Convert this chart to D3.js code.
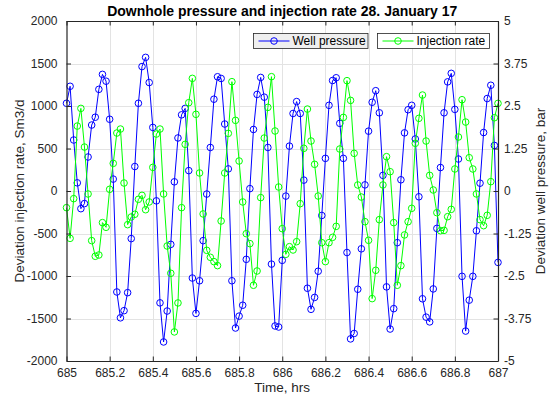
<!DOCTYPE html>
<html>
<head>
<meta charset="utf-8">
<script src="https://cdn.jsdelivr.net/npm/d3@7"></script>
<style>
  html, body { margin: 0; padding: 0; background: #fff; }
  svg { display: block; font-family: "Liberation Sans", Arial, Helvetica, sans-serif; }
</style>
</head>
<body>
<svg id="chart" width="549" height="394"></svg>
<script>
// Sampling: one reading per minute from 685 h to 687 h
const startHour = 685;
const samplesPerHour = 60;

// Downhole well pressure deviation, bar (right axis)
const wellPressure = [
  2.58, 3.08, 1.50, 0.24, -0.52, -0.37, 1.00, 1.94, 2.17, 2.99,
  3.43, 3.23, 2.11, 0.35, -2.97, -3.73, -3.52, -2.99, -1.40, 0.72,
  2.58, 3.66, 3.93, 3.19, 1.87, -0.29, -3.29, -4.44, -3.53, -1.57,
  0.27, 1.56, 2.24, 2.43, 0.60, -2.56, -3.60, -2.64, -1.46, -0.09,
  1.28, 2.70, 3.36, 3.31, 1.97, 0.65, -2.64, -4.03, -3.68, -3.36,
  -2.01, 0.07, 1.81, 2.84, 3.34, 2.76, 1.28, -2.15, -3.97, -4.00,
  -2.04, -0.15, 1.32, 2.28, 2.63, 2.28, 0.32, -2.86, -3.48, -3.13,
  -2.36, -0.72, 0.96, 2.52, 3.25, 3.33, 1.99, 0.96, -1.81, -4.35,
  -4.19, -2.89, -1.70, 0.18, 1.76, 2.61, 2.95, 2.30, 0.46, -2.82,
  -4.06, -3.46, -1.52, 0.33, 1.71, 2.39, 2.52, 1.53, -0.17, -3.17,
  -3.71, -3.85, -2.88, -1.10, 0.69, 2.30, 3.21, 3.46, 2.40, 0.94,
  -2.51, -4.12, -3.21, -2.51, -1.17, 0.23, 1.72, 2.72, 3.11, 1.34,
  -2.10
];

// Injection rate deviation, Sm3/d (left axis)
const injectionRate = [
  -196, -557, -90, 764, 972, 517, -35, -584, -768, -753,
  -372, -427, 20, 325, 682, 729, 94, -396, -306, -274,
  -98, -51, -220, -129, 278, 670, 729, -35, -647, -968,
  -1658, -1317, -196, 549, 1039, 1325, 902, 212, -270, -698,
  -780, -831, -878, -353, 212, 678, 1286, 831, 353, -129,
  -502, -619, -1109, -941, -78, 623, 984, 1345, 706, 47,
  -443, -745, -655, -694, -596, -149, 502, 964, 588, 314,
  -59, -608, -831, -608, -545, -416, 494, 866, 1298, 1066,
  443, 71, -71, -361, -580, -1266, -933, -337, 71, 404,
  227, -372, -1109, -878, -517, -361, -204, 561, 855, 1129,
  588, 184, 12, -255, -467, -463, -302, -216, 259, 635,
  1074, 811, 392, 259, -35, -337, -408, -286, 110, 862,
  1031
];

const xTicks = [685, 685.2, 685.4, 685.6, 685.8, 686, 686.2, 686.4, 686.6, 686.8, 687];
const xTickLabels = ["685", "685.2", "685.4", "685.6", "685.8", "686", "686.2", "686.4", "686.6", "686.8", "687"];
const leftTicks = [-2000, -1500, -1000, -500, 0, 500, 1000, 1500, 2000];
const leftTickLabels = ["-2000", "-1500", "-1000", "-500", "0", "500", "1000", "1500", "2000"];
const rightTicks = [-5, -3.75, -2.5, -1.25, 0, 1.25, 2.5, 3.75, 5];
const rightTickLabels = ["-5", "-3.75", "-2.5", "-1.25", "0", "1.25", "2.5", "3.75", "5"];

const title = "Downhole pressure and injection rate 28. January 17";
const xLabel = "Time, hrs";
const leftLabel = "Deviation injection rate, Sm3/d";
const rightLabel = "Deviation well pressure, bar";
const seriesNames = ["Well pressure", "Injection rate"];

const BLUE = "#0000ff", GREEN = "#00ff00", INK = "#262626", GRID = "#e3e3e3";

const plot = { left: 66.5, right: 498, top: 21, bottom: 361 };

const svg = d3.select("#chart");

const x = d3.scaleLinear().domain([685, 687]).range([plot.left, plot.right]);
const yL = d3.scaleLinear().domain([-2000, 2000]).range([plot.bottom, plot.top]);
const yR = d3.scaleLinear().domain([-5, 5]).range([plot.bottom, plot.top]);

const hours = wellPressure.map((_, i) => startHour + i / samplesPerHour);

// Grid
const grid = svg.append("g").attr("stroke", GRID).attr("stroke-width", 1);
grid.selectAll("line.gx").data(xTicks.slice(1, -1)).join("line")
  .attr("x1", d => Math.round(x(d)) + 0.5).attr("x2", d => Math.round(x(d)) + 0.5)
  .attr("y1", plot.top).attr("y2", plot.bottom);
grid.selectAll("line.gy").data(leftTicks.slice(1, -1)).join("line")
  .attr("y1", d => Math.round(yL(d)) + 0.5).attr("y2", d => Math.round(yL(d)) + 0.5)
  .attr("x1", plot.left).attr("x2", plot.right);

// Series
function drawSeries(values, yScale, color) {
  const g = svg.append("g");
  const line = d3.line().x((d, i) => x(hours[i])).y(d => yScale(d));
  g.append("path").datum(values)
    .attr("d", line).attr("fill", "none").attr("stroke", color).attr("stroke-width", 1);
  g.selectAll("circle").data(values).join("circle")
    .attr("cx", (d, i) => x(hours[i])).attr("cy", d => yScale(d)).attr("r", 3.3)
    .attr("fill", "none").attr("stroke", color).attr("stroke-width", 1);
}
drawSeries(wellPressure, yR, BLUE);
drawSeries(injectionRate, yL, GREEN);

// Axes (ticks pointing inward, as on a boxed plot)
const tickLen = 4.5;
function styleAxis(g) {
  g.selectAll(".domain").attr("stroke", INK);
  g.selectAll(".tick line").attr("stroke", INK);
  g.selectAll(".tick text").attr("fill", INK).attr("font-size", 12);
}
svg.append("g").attr("transform", `translate(0,${plot.bottom})`)
  .call(d3.axisBottom(x).tickValues(xTicks).tickFormat((d, i) => xTickLabels[i])
    .tickSizeInner(-tickLen).tickSizeOuter(0).tickPadding(7))
  .call(styleAxis);
svg.append("g").attr("transform", `translate(0,${plot.top})`)
  .call(d3.axisTop(x).tickValues(xTicks).tickFormat("")
    .tickSizeInner(-tickLen).tickSizeOuter(0))
  .call(styleAxis);
svg.append("g").attr("transform", `translate(${plot.left},0)`)
  .call(d3.axisLeft(yL).tickValues(leftTicks).tickFormat((d, i) => leftTickLabels[i])
    .tickSizeInner(-tickLen).tickSizeOuter(0).tickPadding(9))
  .call(styleAxis);
svg.append("g").attr("transform", `translate(${plot.right},0)`)
  .call(d3.axisRight(yR).tickValues(rightTicks).tickFormat((d, i) => rightTickLabels[i])
    .tickSizeInner(-tickLen).tickSizeOuter(0).tickPadding(6))
  .call(styleAxis);
svg.selectAll(".domain").attr("stroke-width", 1.2);

// Titles and labels
svg.append("text").attr("x", (plot.left + plot.right) / 2).attr("y", 15.5)
  .attr("text-anchor", "middle").attr("font-weight", "bold").attr("font-size", 14)
  .attr("fill", "#000").text(title);
svg.append("text").attr("x", (plot.left + plot.right) / 2).attr("y", 391.5)
  .attr("text-anchor", "middle").attr("font-size", 13.5).attr("fill", INK).text(xLabel);
svg.append("text").attr("transform", `translate(24,${(plot.top + plot.bottom) / 2}) rotate(-90)`)
  .attr("text-anchor", "middle").attr("font-size", 13.5).attr("fill", INK).text(leftLabel);
svg.append("text").attr("transform", `translate(545,${(plot.top + plot.bottom) / 2}) rotate(-90)`)
  .attr("text-anchor", "middle").attr("font-size", 13.5).attr("fill", INK).text(rightLabel);

// Legend boxes, one per series
const legendItems = [
  { name: seriesNames[0], color: BLUE, fill: "#efefef", x0: 253.5, x1: 368 },
  { name: seriesNames[1], color: GREEN, fill: "#ffffff", x0: 377.5, x1: 489.5 }
];
legendItems.forEach(item => {
  const g = svg.append("g");
  g.append("rect").attr("x", item.x0).attr("y", 33.5).attr("width", item.x1 - item.x0).attr("height", 15)
    .attr("fill", item.fill).attr("stroke", INK).attr("stroke-width", 0.8);
  const ly = 41;
  g.append("line").attr("x1", item.x0 + 5).attr("x2", item.x0 + 36).attr("y1", ly).attr("y2", ly)
    .attr("stroke", item.color).attr("stroke-width", 1);
  g.append("circle").attr("cx", item.x0 + 20.5).attr("cy", ly).attr("r", 3.3)
    .attr("fill", "none").attr("stroke", item.color).attr("stroke-width", 1);
  g.append("text").attr("x", item.x0 + 39).attr("y", ly + 4.3).attr("font-size", 12)
    .attr("fill", "#000").text(item.name);
});
</script>
</body>
</html>
